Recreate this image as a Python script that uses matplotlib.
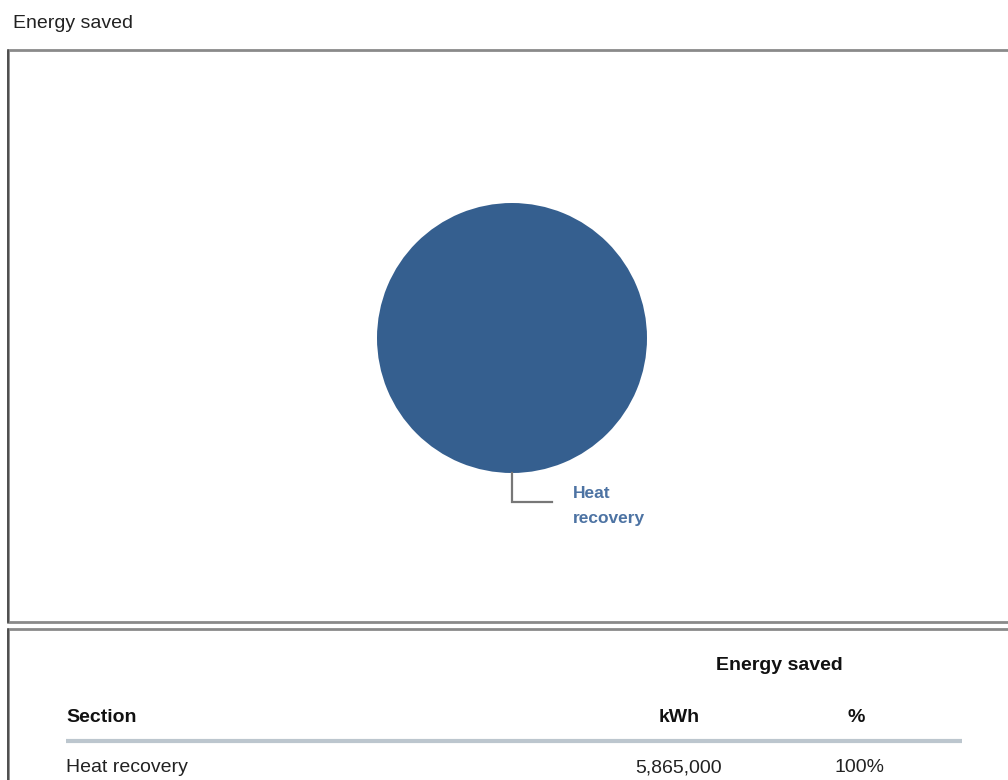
import matplotlib
matplotlib.use("Agg")
import matplotlib.pyplot as plt
from matplotlib.patches import Rectangle

# Data
sections = ["Heat recovery"]
kwh_saved = [5865000]
table_title = "Energy saved"
chart_title = "Energy saved"
col_headers = ["Section", "kWh", "%"]

total = sum(kwh_saved)
percents = [v / total * 100 for v in kwh_saved]

W, H = 1008, 780
fig = plt.figure(figsize=(W / 100, H / 100), dpi=100)
fig.patch.set_facecolor("white")

FONT = "Liberation Sans"
PIE_COLOR = "#355f8f"
LABEL_COLOR = "#4d73a3"

# Background layer in pixel coordinates
bg = fig.add_axes([0, 0, 1, 1])
bg.set_xlim(0, W)
bg.set_ylim(H, 0)
bg.axis("off")

bg.text(13, 23, chart_title, fontsize=14, family=FONT, color="#222222",
        va="center", ha="left")

# Chart panel border
bg.add_patch(Rectangle((8, 50), W + 20, 572, fill=False, edgecolor="#8a8a8a", lw=2))
bg.plot([8, 8], [50, 622], color="#444444", lw=1.2)
# Table panel border
bg.add_patch(Rectangle((8, 629), W + 20, 200, fill=False, edgecolor="#8a8a8a", lw=2))
bg.plot([8, 8], [629, H], color="#444444", lw=1.2)

# Pie
cx, cy, r = 512, 338, 135
pax = fig.add_axes([(cx - r) / W, 1 - (cy + r) / H, 2 * r / W, 2 * r / H])
pax.pie(kwh_saved, colors=[PIE_COLOR], startangle=90, counterclock=False,
        radius=1, wedgeprops=dict(linewidth=0))
pax.set_xlim(-1, 1)
pax.set_ylim(-1, 1)
pax.set_aspect("equal")
pax.axis("off")

# Leader line and label
px = 1.0 / r
pax.plot([0, 0, 40 * px], [-1, -1 - 29 * px, -1 - 29 * px], color="#777777",
         lw=1.6, clip_on=False, solid_joinstyle="miter")
pax.text(61 * px, -1 - 33 * px, sections[0].replace(" ", "\n"), color=LABEL_COLOR,
         fontsize=12.5, fontweight="bold", family=FONT, ha="left", va="center",
         linespacing=1.75, clip_on=False)

# Table
FS = 14
bg.text(779, 666, table_title, fontsize=FS, fontweight="bold", family=FONT,
        ha="center", va="center", color="#111111")
col_x = [66, 679, 856]
col_ha = ["left", "center", "center"]
for x, ha, label in zip(col_x, col_ha, col_headers):
    bg.text(x, 718, label, fontsize=FS, fontweight="bold", family=FONT,
            ha=ha, va="center", color="#111111")
bg.plot([66, 962], [741, 741], color="#bcc6ce", lw=3, solid_capstyle="butt")

for i, (name, val, pct) in enumerate(zip(sections, kwh_saved, percents)):
    y = 768 + i * 26
    bg.text(col_x[0], y, name, fontsize=FS, family=FONT, ha="left", va="center",
            color="#222222")
    bg.text(col_x[1], y, f"{val:,}", fontsize=FS, family=FONT, ha="center",
            va="center", color="#222222")
    bg.text(col_x[2] + 4, y, f"{pct:.0f}%", fontsize=FS, family=FONT, ha="center",
            va="center", color="#222222")

fig.savefig("out.png", dpi=100, facecolor="white")
